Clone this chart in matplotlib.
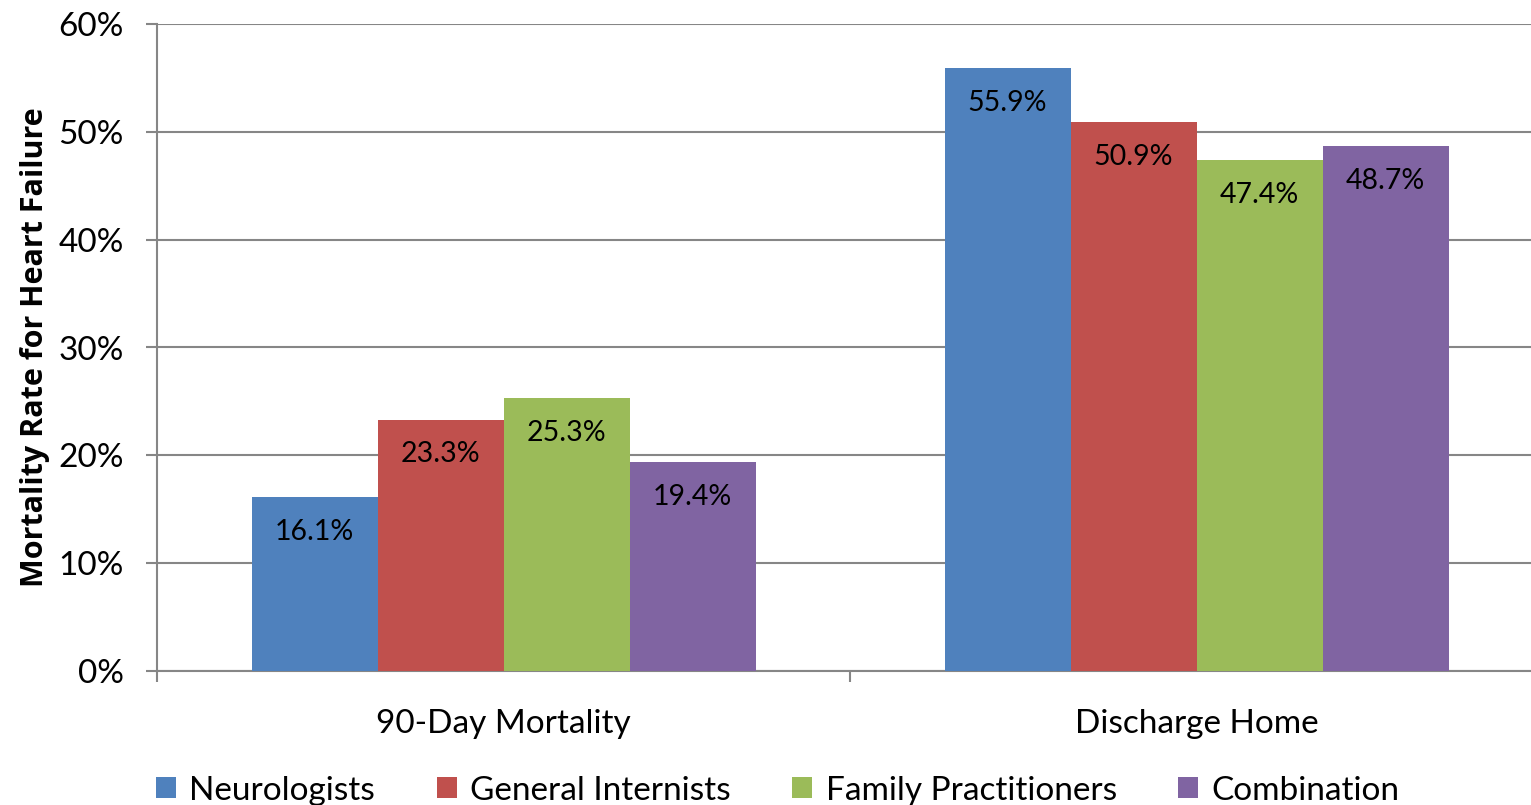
import numpy as np
import matplotlib.pyplot as plt
from matplotlib.ticker import PercentFormatter

plt.rcParams['font.family'] = ['Lato', 'DejaVu Sans']

groups = ["90-Day Mortality", "Discharge Home"]
series = ["Neurologists", "General Internists", "Family Practitioners", "Combination"]
values = [
    [16.1, 55.9],
    [23.3, 50.9],
    [25.3, 47.4],
    [19.4, 48.7],
]
colors = ["#4F81BD", "#C0504D", "#9BBB59", "#8064A2"]

W, H = 1531, 805
fig = plt.figure(figsize=(W / 100, H / 100), dpi=100)
ax = fig.add_axes([157 / W, (H - 671) / H, 1386 / W, (671 - 24) / H])

x = np.arange(len(groups))
bw = 1 / 5.5
for i, (name, vals, c) in enumerate(zip(series, values, colors)):
    pos = x + (i - 1.5) * bw
    ax.bar(pos, vals, width=bw, color=c, label=name, zorder=3)
    for p, v in zip(pos, vals):
        ax.annotate(f"{v:.1f}%", (p, v), xytext=(0, -25), textcoords="offset points",
                    ha="center", va="center", fontsize=20.5, color="black", zorder=4)

ax.set_xlim(-0.5, 1.5)
ax.set_ylim(0, 60)
ax.set_yticks(np.arange(0, 61, 10))
ax.yaxis.set_major_formatter(PercentFormatter(decimals=0))
ax.set_xticks([-0.5, 0.5, 1.5])
ax.set_xticklabels([])
ax.set_xticks(x, minor=True)
ax.set_xticklabels(groups, minor=True)
ax.tick_params(axis="x", which="minor", length=0, pad=27, labelsize=24)
ax.tick_params(axis="x", which="major", length=8, width=1.5, color="#868686")
ax.tick_params(axis="y", length=8, width=1.5, color="#868686", labelsize=24, pad=16)
ax.grid(axis="y", color="#868686", linewidth=1.5, zorder=0)

for side in ["top", "right"]:
    ax.spines[side].set_visible(False)
for side in ["left", "bottom"]:
    ax.spines[side].set_color("#868686")
    ax.spines[side].set_linewidth(1.5)

ax.set_ylabel("Mortality Rate for Heart Failure", fontsize=22, fontweight="bold",
              family=["Open Sans", "DejaVu Sans"], labelpad=6)

fig.legend(loc="center", bbox_to_anchor=(0.508, 0.018), ncol=4, frameon=False,
           fontsize=24, handlelength=0.6, handleheight=0.6, handletextpad=0.4,
           columnspacing=1.85)

fig.savefig("out.png", dpi=100)
